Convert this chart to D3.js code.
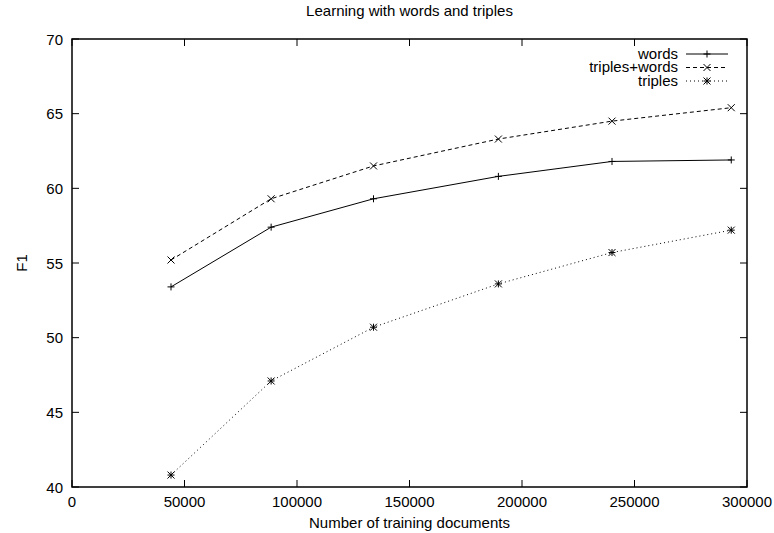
<!DOCTYPE html>
<html>
<head>
<meta charset="utf-8">
<script src="https://cdn.jsdelivr.net/npm/d3@7"></script>
<style>
  body { margin: 0; background: #fff; }
  svg { font-family: "Liberation Sans", Arial, sans-serif; }
</style>
</head>
<body>
<svg width="774" height="533"></svg>
<script>
// training set sizes (x) and F1 for each run
var docs = [44000, 88500, 134000, 189500, 240000, 293000];
var words = [53.4, 57.4, 59.3, 60.8, 61.8, 61.9];
var triplesWords = [55.2, 59.3, 61.5, 63.3, 64.5, 65.4];
var triples = [40.8, 47.1, 50.7, 53.6, 55.7, 57.2];

var seriesNames = ["words", "triples+words", "triples"];
var xTicks = [0, 50000, 100000, 150000, 200000, 250000, 300000];
var yTicks = [40, 45, 50, 55, 60, 65, 70];

var series = [
  { name: seriesNames[0], values: words, dash: null, marker: "plus" },
  { name: seriesNames[1], values: triplesWords, dash: "4,3", marker: "cross" },
  { name: seriesNames[2], values: triples, dash: "1,3", marker: "star" }
];

var svg = d3.select("svg");
var margin = {top: 39, right: 27, bottom: 46, left: 72};
var width = +svg.attr("width") - margin.left - margin.right;
var height = +svg.attr("height") - margin.top - margin.bottom;

var x = d3.scaleLinear().domain([0, 300000]).range([margin.left, margin.left + width]);
var y = d3.scaleLinear().domain([40, 70]).range([margin.top + height, margin.top]);

var tickLen = 7;
var fs = 15;

// ticks, inside and mirrored like gnuplot
var axes = svg.append("g").attr("stroke", "#000").attr("stroke-width", 1);
xTicks.forEach(function(t) {
  axes.append("line").attr("x1", x(t)).attr("x2", x(t))
    .attr("y1", y(40)).attr("y2", y(40) - tickLen);
  axes.append("line").attr("x1", x(t)).attr("x2", x(t))
    .attr("y1", y(70)).attr("y2", y(70) + tickLen);
});
yTicks.forEach(function(t) {
  axes.append("line").attr("x1", x(0)).attr("x2", x(0) + tickLen)
    .attr("y1", y(t)).attr("y2", y(t));
  axes.append("line").attr("x1", x(300000)).attr("x2", x(300000) - tickLen)
    .attr("y1", y(t)).attr("y2", y(t));
});

// border
svg.append("rect")
  .attr("x", margin.left).attr("y", margin.top)
  .attr("width", width).attr("height", height)
  .attr("fill", "none").attr("stroke", "#000").attr("stroke-width", 1.5);

// tick labels
svg.append("g").selectAll("text").data(xTicks).enter().append("text")
  .attr("x", function(d) { return x(d); })
  .attr("y", y(40) + 20)
  .attr("text-anchor", "middle")
  .attr("font-size", fs)
  .text(function(d) { return d; });

svg.append("g").selectAll("text").data(yTicks).enter().append("text")
  .attr("x", x(0) - 9)
  .attr("y", function(d) { return y(d) + 5.5; })
  .attr("text-anchor", "end")
  .attr("font-size", fs)
  .text(function(d) { return d; });

// title and axis labels
svg.append("text").attr("x", margin.left + width / 2).attr("y", 16)
  .attr("text-anchor", "middle").attr("font-size", fs)
  .text("Learning with words and triples");
svg.append("text").attr("x", margin.left + width / 2).attr("y", 528)
  .attr("text-anchor", "middle").attr("font-size", fs)
  .text("Number of training documents");
svg.append("text")
  .attr("transform", "translate(27,263) rotate(-90)")
  .attr("text-anchor", "middle").attr("font-size", fs)
  .text("F1");

function drawMarker(g, type, cx, cy) {
  var s = 3.5;
  var p = d3.path();
  if (type === "plus" || type === "star") {
    p.moveTo(cx - s, cy); p.lineTo(cx + s, cy);
    p.moveTo(cx, cy - s); p.lineTo(cx, cy + s);
  }
  if (type === "cross" || type === "star") {
    p.moveTo(cx - s, cy - s); p.lineTo(cx + s, cy + s);
    p.moveTo(cx - s, cy + s); p.lineTo(cx + s, cy - s);
  }
  g.append("path").attr("d", p.toString())
    .attr("stroke", "#000").attr("stroke-width", 1).attr("fill", "none");
}

var line = d3.line()
  .x(function(d, i) { return x(docs[i]); })
  .y(function(d) { return y(d); });

series.forEach(function(s, k) {
  var g = svg.append("g");
  g.append("path")
    .attr("d", line(s.values))
    .attr("fill", "none")
    .attr("stroke", "#000")
    .attr("stroke-width", 1)
    .attr("stroke-dasharray", s.dash);
  s.values.forEach(function(v, i) {
    drawMarker(g, s.marker, x(docs[i]), y(v));
  });

  // legend entry
  var ly = 54 + k * 13.5;
  g.append("text").attr("x", 678).attr("y", ly + 4.5)
    .attr("text-anchor", "end").attr("font-size", fs)
    .text(s.name);
  g.append("line").attr("x1", 686).attr("x2", 728)
    .attr("y1", ly).attr("y2", ly)
    .attr("stroke", "#000").attr("stroke-width", 1)
    .attr("stroke-dasharray", s.dash);
  drawMarker(g, s.marker, 707, ly);
});
</script>
</body>
</html>
